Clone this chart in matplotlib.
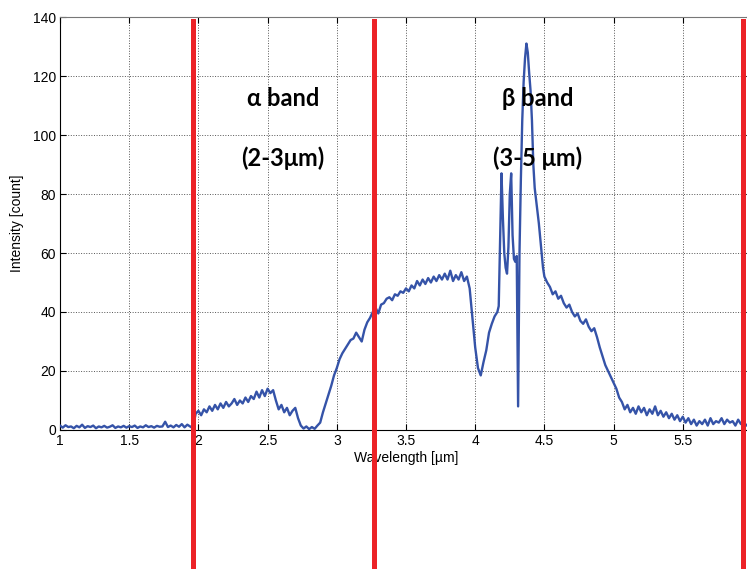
import matplotlib
matplotlib.use('Agg')
import matplotlib.pyplot as plt

plt.rcParams['font.family'] = ['Liberation Sans', 'DejaVu Sans']

# spectrum
wavelength = [
    1.00, 1.02, 1.04, 1.06, 1.08, 1.10, 1.12, 1.14, 1.16, 1.18,
    1.20, 1.22, 1.24, 1.26, 1.28, 1.30, 1.32, 1.34, 1.36, 1.38,
    1.40, 1.42, 1.44, 1.46, 1.48, 1.50, 1.52, 1.54, 1.56, 1.58,
    1.60, 1.62, 1.64, 1.66, 1.68, 1.70, 1.72, 1.74, 1.76, 1.78,
    1.80, 1.82, 1.84, 1.86, 1.88, 1.90, 1.92, 1.94, 1.96, 1.98,
    2.00, 2.02, 2.04, 2.06, 2.08, 2.10, 2.12, 2.14, 2.16, 2.18,
    2.20, 2.22, 2.24, 2.26, 2.28, 2.30, 2.32, 2.34, 2.36, 2.38,
    2.40, 2.42, 2.44, 2.46, 2.48, 2.50, 2.52, 2.54, 2.56, 2.58,
    2.60, 2.62, 2.64, 2.66, 2.68, 2.70, 2.72, 2.74, 2.76, 2.78,
    2.80, 2.82, 2.84, 2.86, 2.88, 2.90, 2.92, 2.94, 2.96, 2.98,
    3.00, 3.02, 3.04, 3.06, 3.08, 3.10, 3.12, 3.14, 3.16, 3.18,
    3.20, 3.22, 3.24, 3.26, 3.28, 3.30, 3.32, 3.34, 3.36, 3.38,
    3.40, 3.42, 3.44, 3.46, 3.48, 3.50, 3.52, 3.54, 3.56, 3.58,
    3.60, 3.62, 3.64, 3.66, 3.68, 3.70, 3.72, 3.74, 3.76, 3.78,
    3.80, 3.82, 3.84, 3.86, 3.88, 3.90, 3.92, 3.94, 3.96, 3.98,
    4.00, 4.02, 4.04, 4.06, 4.08, 4.10, 4.12, 4.14, 4.16,
    4.17, 4.18, 4.19, 4.20, 4.21, 4.22, 4.23, 4.24, 4.25, 4.26,
    4.27, 4.28, 4.29, 4.30, 4.31, 4.32, 4.33, 4.34, 4.35, 4.36,
    4.37, 4.38, 4.39, 4.40, 4.41, 4.42, 4.43, 4.44, 4.45, 4.46,
    4.47, 4.48, 4.49, 4.50,
    4.52, 4.54, 4.56, 4.58, 4.60, 4.62, 4.64, 4.66, 4.68, 4.70,
    4.72, 4.74, 4.76, 4.78, 4.80, 4.82, 4.84, 4.86, 4.88, 4.90,
    4.92, 4.94, 4.96, 4.98, 5.00, 5.02, 5.04, 5.06, 5.08, 5.10,
    5.12, 5.14, 5.16, 5.18, 5.20, 5.22, 5.24, 5.26, 5.28, 5.30,
    5.32, 5.34, 5.36, 5.38, 5.40, 5.42, 5.44, 5.46, 5.48, 5.50,
    5.52, 5.54, 5.56, 5.58, 5.60, 5.62, 5.64, 5.66, 5.68, 5.70,
    5.72, 5.74, 5.76, 5.78, 5.80, 5.82, 5.84, 5.86, 5.88, 5.90,
    5.92, 5.94, 5.96, 5.98,
]
intensity = [
    1.5, 0.8, 1.6, 1.0, 1.2, 0.6, 1.4, 0.9, 1.8, 0.7,
    1.3, 1.0, 1.5, 0.6, 1.2, 0.9, 1.4, 0.8, 1.1, 1.6,
    0.7, 1.2, 0.9, 1.4, 0.8, 1.3, 1.0, 1.5, 0.7, 1.2,
    0.9, 1.6, 1.0, 1.3, 0.8, 1.4, 1.1, 1.2, 2.8, 1.0,
    1.5, 0.9, 1.7, 1.1, 2.0, 0.9, 1.8, 1.2, 0.6, 5.5,
    6.5, 5.0, 7.0, 6.0, 8.0, 6.5, 8.5, 7.0, 9.0, 7.5,
    9.5, 8.0, 9.0, 10.5, 8.5, 10.0, 9.0, 11.0, 9.5, 11.5,
    10.5, 13.0, 11.0, 13.5, 11.5, 14.0, 12.5, 13.5, 10.0, 7.0,
    8.5, 6.0, 7.5, 5.0, 6.5, 7.5, 4.0, 1.5, 0.5, 1.2,
    0.3, 1.0, 0.4, 1.5, 2.5, 6.0, 9.0, 12.0, 15.0, 18.5,
    21.0, 24.0, 26.0, 27.5, 29.0, 30.5, 31.0, 33.0, 31.5, 30.0,
    34.0, 36.5, 38.0, 40.0, 41.5, 39.5, 42.5, 43.0, 44.5, 45.0,
    44.0, 46.0, 45.5, 47.0, 46.5, 48.0, 47.0, 49.0, 48.0, 50.5,
    49.0, 51.0, 49.5, 51.5, 50.0, 52.0, 50.5, 52.5, 51.0, 53.0,
    51.0, 54.0, 50.5, 52.5, 51.0, 53.5, 50.5, 52.0, 48.0, 38.0,
    28.0, 21.0, 18.5, 23.0, 27.0, 33.0, 36.0, 38.5, 40.0,
    42.0, 65.0, 87.0, 72.0, 60.0, 55.0, 53.0, 62.0, 80.0, 87.0,
    66.0, 58.0, 57.0, 59.0, 8.0, 60.0, 85.0, 105.0, 118.0, 126.0,
    131.0, 128.0, 121.0, 115.0, 105.0, 90.0, 82.0, 78.0, 74.0, 70.0,
    65.0, 60.0, 55.0, 52.0,
    50.0, 48.5, 46.0, 47.0, 44.5, 45.5, 43.0, 41.5, 42.5, 40.0,
    38.5, 39.5, 37.0, 36.0, 37.5, 35.0, 33.5, 34.5, 31.5, 28.0,
    25.0, 22.0, 20.0, 18.0, 16.0, 14.0, 11.0, 9.5, 7.0, 8.5,
    6.0, 7.5, 5.5, 8.0, 6.0, 7.5, 5.0, 7.0, 5.5, 8.0,
    5.0, 6.5, 4.5, 6.0, 4.0, 5.5, 3.5, 5.0, 3.0, 4.5,
    2.5, 4.0, 2.0, 3.5, 1.5, 3.0, 2.0, 3.5, 1.5, 4.0,
    2.0, 3.0, 2.5, 4.0, 2.0, 3.5, 2.5, 3.0, 1.5, 3.5,
    2.0, 2.5, 1.5, 2.5,
]
assert len(wavelength) == len(intensity)

band_edges = [1.96, 3.27, 5.935]
band_names = ['α band', 'β band']
band_ranges = ['(2-3μm)', '(3-5 μm)']
label_x = [2.61, 4.45]

x_ticks = [1, 1.5, 2, 2.5, 3, 3.5, 4, 4.5, 5, 5.5]
x_ticklabels = ['1', '1.5', '2', '2.5', '3', '3.5', '4', '4.5', '5', '5.5']
y_ticks = [0, 20, 40, 60, 80, 100, 120, 140]

fig = plt.figure(figsize=(7.47, 5.69), dpi=100)
ax = fig.add_axes([0.0803, 0.2443, 0.9264, 0.7258])

ax.plot(wavelength, intensity, color='#3553a8', linewidth=1.7, zorder=3)

# red band markers run past the bottom of the axes
for xe in band_edges:
    ax.axvline(xe, ymin=-0.36, ymax=0.99, color='#ec2227', linewidth=3.6,
               clip_on=False, zorder=5)

for xl, name, rng in zip(label_x, band_names, band_ranges):
    ax.text(xl, 112.5, name, ha='center', va='center', fontsize=17,
            fontweight='bold', family=['Lato', 'DejaVu Sans'], zorder=6)
    ax.text(xl, 92.2, rng, ha='center', va='center', fontsize=17,
            fontweight='bold', family=['Lato', 'DejaVu Sans'], zorder=6)

ax.set_xlim(1, 6)
ax.set_ylim(0, 140)
ax.set_xticks(x_ticks)
ax.set_xticklabels(x_ticklabels)
ax.set_yticks(y_ticks)
ax.grid(True, linestyle=':', color='#555555', linewidth=0.7)
ax.tick_params(direction='in', top=True, right=True, length=4, labelsize=10, pad=3)
ax.spines['top'].set_color('#777777')

ax.set_xlabel('Wavelength [µm]', fontsize=10, labelpad=2)
ax.set_ylabel('Intensity [count]', fontsize=10, labelpad=6)

fig.savefig('out.png', dpi=100)
